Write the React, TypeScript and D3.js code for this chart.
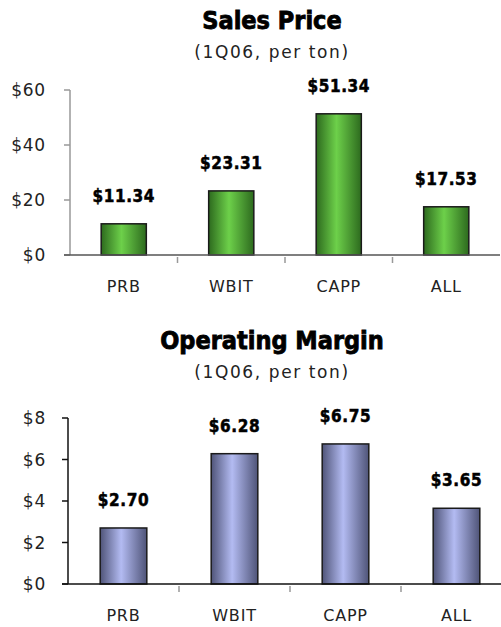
import React from 'react';
import * as d3 from 'd3';

const categories = ['PRB', 'WBIT', 'CAPP', 'ALL'];
const salesPrice = [11.34, 23.31, 51.34, 17.53];
const operatingMargin = [2.7, 6.28, 6.75, 3.65];
const salesTicks = [0, 20, 40, 60];
const marginTicks = [0, 2, 4, 6, 8];

const FONT = '"DejaVu Sans", Verdana, sans-serif';
const TITLE_FONT = '"DejaVu Sans Condensed", "DejaVu Sans", sans-serif';

type PanelProps = {
  id: string;
  title: string;
  values: number[];
  ticks: number[];
  top: number;
  xRange: [number, number];
  yTop: number;
  yBottom: number;
  colors: [string, string];
  axisColor: string;
  baseColor: string;
};

function Panel(props: PanelProps) {
  const { id, title, values, ticks, top, xRange, yTop, yBottom, colors, axisColor, baseColor } = props;
  const x = d3.scaleBand().domain(categories).range(xRange).padding(0);
  const y = d3.scaleLinear().domain([0, d3.max(ticks)!]).range([yBottom, yTop]);
  const bw = x.bandwidth() * 0.42;
  const axisX = xRange[0];
  const mid = 272;

  return (
    <g transform={`translate(0,${top})`}>
      <defs>
        <linearGradient id={id} x1="0" x2="1" y1="0" y2="0">
          <stop offset="0%" stopColor={colors[0]} />
          <stop offset="45%" stopColor={colors[1]} />
          <stop offset="100%" stopColor={colors[0]} />
        </linearGradient>
      </defs>
      <text x={mid} y={29} textAnchor="middle" fontFamily={TITLE_FONT} fontWeight="bold" fontSize={25}
        fill="#000" stroke="#000" strokeWidth={0.8}>
        {title}
      </text>
      <text x={mid} y={58} textAnchor="middle" fontFamily={FONT} fontSize={17} letterSpacing={1.6} fill="#222">
        (1Q06, per ton)
      </text>
      {/* y axis */}
      <line x1={axisX} x2={axisX} y1={yTop} y2={yBottom} stroke={axisColor} strokeWidth={1.5} />
      {ticks.map(t => (
        <g key={t}>
          <line x1={axisX - 6} x2={axisX} y1={y(t)} y2={y(t)} stroke={axisColor} strokeWidth={1.5} />
          <text x={46} y={y(t) + 6} textAnchor="end" fontFamily={FONT} fontSize={17} letterSpacing={0.8} fill="#222">
            {'$' + t}
          </text>
        </g>
      ))}
      {/* bars */}
      {categories.map((c, i) => {
        const cx = x(c)! + x.bandwidth() / 2;
        const v = values[i];
        return (
          <g key={c}>
            <rect x={cx - bw / 2} y={y(v)} width={bw} height={y(0) - y(v)} fill={`url(#${id})`} stroke="#1a1a1a" strokeWidth={1.5} />
            <text x={cx} y={y(v) - 22} textAnchor="middle" fontFamily={TITLE_FONT} fontWeight="bold" fontSize={17}
              letterSpacing={0.6} fill="#000" stroke="#000" strokeWidth={0.5}>
              {'$' + v.toFixed(2)}
            </text>
            <text x={cx} y={yBottom + 37} textAnchor="middle" fontFamily={FONT} fontSize={16} letterSpacing={0.8} fill="#222">
              {c}
            </text>
          </g>
        );
      })}
      {/* x axis */}
      <line x1={axisX - 6} x2={xRange[1]} y1={yBottom} y2={yBottom} stroke={baseColor} strokeWidth={1.5} />
      {categories.slice(1).map(c => (
        <line key={c} x1={x(c)!} x2={x(c)!} y1={yBottom + 2} y2={yBottom + 8} stroke="#999" strokeWidth={1.5} />
      ))}
    </g>
  );
}

export default function App() {
  return (
    <svg width={501} height={627} style={{ position: 'absolute', left: 0, top: 0, background: '#fff' }}>
      <Panel
        id="green"
        title="Sales Price"
        values={salesPrice}
        ticks={salesTicks}
        top={0}
        xRange={[70, 500]}
        yTop={90}
        yBottom={255}
        colors={['#2d6a1e', '#6dd04a']}
        axisColor="#999"
        baseColor="#555"
      />
      <Panel
        id="purple"
        title="Operating Margin"
        values={operatingMargin}
        ticks={marginTicks}
        top={320}
        xRange={[68, 512]}
        yTop={98}
        yBottom={264}
        colors={['#4f5478', '#b3bbf2']}
        axisColor="#111"
        baseColor="#111"
      />
    </svg>
  );
}
